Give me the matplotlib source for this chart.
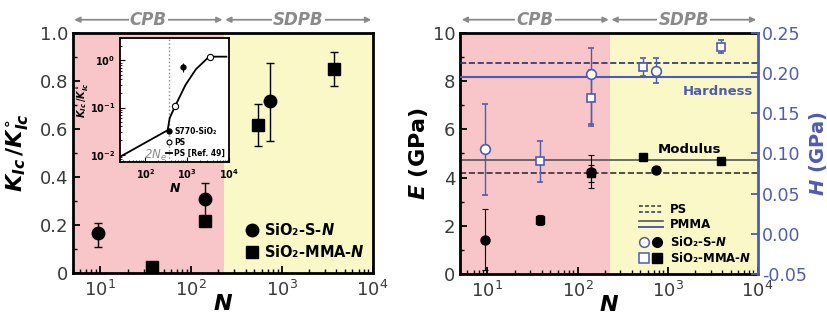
import matplotlib
matplotlib.use("Agg")
import matplotlib.pyplot as plt
from matplotlib.lines import Line2D
from matplotlib.ticker import MultipleLocator, FormatStrFormatter, LogLocator, NullFormatter

plt.rcParams['font.family'] = ['DejaVu Sans']
plt.rcParams['mathtext.fontset'] = 'custom'
plt.rcParams['mathtext.it'] = 'DejaVu Sans:italic:bold'
plt.rcParams['mathtext.rm'] = 'DejaVu Sans:bold'
plt.rcParams['mathtext.bf'] = 'DejaVu Sans:bold'

# ---- data: left panel (fracture toughness) ----
n_s = [9.5, 142, 740]
k_s = [0.165, 0.31, 0.715]
k_s_lo = [0.055, 0.09, 0.165]
k_s_hi = [0.045, 0.065, 0.16]
n_mma = [37, 142, 540, 3800]
k_mma = [0.025, 0.215, 0.615, 0.85]
k_mma_err = [0.0, 0.0, 0.088, 0.072]

# inset: PS reference curve and points
ref_n = [25, 340, 380, 520, 900, 1600, 3300, 8500]
ref_k = [0.009, 0.033, 0.06, 0.11, 0.3, 0.65, 1.2, 1.2]
ps_n = [520, 3400]
ps_k = [0.11, 1.2]
s770_n = [800]
s770_k = [0.72]
s770_err = [0.15]
two_ne = 360

# ---- data: right panel (modulus / hardness) ----
e_s_n = [9.5, 142, 740]
e_s = [1.42, 4.25, 4.3]
e_s_err = [1.27, 0.7, 0.05]
e_mma_n = [38, 142, 540, 3900]
e_mma = [2.25, 4.18, 4.85, 4.67]
e_mma_err = [0.2, 0.35, 0.0, 0.12]
h_s_n = [9.5, 142, 740]
h_s = [0.105, 0.199, 0.203]
h_s_lo = [0.057, 0.062, 0.015]
h_s_hi = [0.056, 0.032, 0.016]
h_mma_n = [38, 142, 540, 3900]
h_mma = [0.090, 0.169, 0.208, 0.233]
h_mma_err = [0.025, 0.035, 0.011, 0.008]
e_ps, e_pmma = 4.2, 4.72
h_ps, h_pmma = 0.213, 0.195

boundary = 230
xlim = (5, 1e4)
pink = '#f8c5c8'
yellow = '#fbf8c8'
blue = '#4f5bb0'
gray = '#8a8a8a'

fig = plt.figure(figsize=(8.28, 3.2), dpi=100)
ax1 = fig.add_axes([0.088, 0.147, 0.362, 0.750])
ax2 = fig.add_axes([0.556, 0.144, 0.359, 0.753])


def style_axes(ax):
    ax.set_xscale('log')
    ax.set_xlim(*xlim)
    ax.axvspan(xlim[0], boundary, color=pink, zorder=0, lw=0)
    ax.axvspan(boundary, xlim[1], color=yellow, zorder=0, lw=0)
    for s in ax.spines.values():
        s.set_linewidth(2)
    ax.tick_params(which='both', direction='in', labelsize=13, labelcolor='#3a3a3a')
    ax.tick_params(which='major', length=5, width=1.3)
    ax.tick_params(which='minor', length=3, width=1)
    ax.tick_params(axis='x', pad=5)
    ax.xaxis.set_major_locator(LogLocator(base=10, numticks=10))
    ax.xaxis.set_minor_locator(LogLocator(base=10, subs=range(2, 10), numticks=20))
    ax.xaxis.set_minor_formatter(NullFormatter())
    ax.set_xlabel('$N$', fontsize=16, labelpad=-4)
    # regime arrows
    tr = ax.get_xaxis_transform()
    for x0, x1, lab in [(xlim[0], boundary, 'CPB'), (boundary, xlim[1], 'SDPB')]:
        ax.annotate('', xy=(x0, 1.055), xytext=(x1, 1.055), xycoords=tr, textcoords=tr,
                    arrowprops=dict(arrowstyle='<|-|>', color=gray, lw=1.3,
                                    mutation_scale=8, shrinkA=1, shrinkB=1),
                    annotation_clip=False)
        xm = (x0 * x1) ** 0.5
        ax.text(xm, 1.055, lab, transform=tr, ha='center', va='center', fontsize=12,
                fontstyle='italic', fontweight='bold', color=gray,
                bbox=dict(fc='white', ec='none', pad=1))


# ---- left panel ----
style_axes(ax1)
ax1.set_ylim(0, 1.0)
ax1.yaxis.set_minor_locator(MultipleLocator(0.1))
ax1.set_yticks([0, 0.2, 0.4, 0.6, 0.8, 1.0], ['0', '0.2', '0.4', '0.6', '0.8', '1.0'])
ax1.set_ylabel(r'$K_{Ic}\,/K^{\circ}_{Ic}$', fontsize=16, labelpad=6)
ax1.errorbar(n_s, k_s, yerr=[k_s_lo, k_s_hi], fmt='o', color='black', ms=9,
             elinewidth=1, capsize=3, capthick=1, zorder=3)
ax1.errorbar(n_mma, k_mma, yerr=k_mma_err, fmt='s', color='black', ms=9,
             elinewidth=1, capsize=3, capthick=1, zorder=3)
ax1.legend([Line2D([], [], marker='o', color='black', ls='none', ms=9),
            Line2D([], [], marker='s', color='black', ls='none', ms=9)],
           ['SiO₂-S-$N$', 'SiO₂-MMA-$N$'],
           loc='lower left', bbox_to_anchor=(0.565, 0.04), borderaxespad=0, borderpad=0.2,
           frameon=False, prop=dict(size=10.5, weight='bold'), handletextpad=0.3,
           handlelength=1.0, labelspacing=0.45)

# inset
axi = fig.add_axes([0.145, 0.494, 0.132, 0.3875])
axi.set_xscale('log')
axi.set_yscale('log')
axi.set_xlim(25, 1e4)
axi.set_ylim(0.007, 3)
axi.set_facecolor('white')
for s in axi.spines.values():
    s.set_linewidth(1.3)
axi.tick_params(which='both', direction='in', labelsize=7)
axi.tick_params(which='minor', length=1.5)
axi.xaxis.set_major_locator(LogLocator(base=10, numticks=10))
axi.xaxis.set_minor_formatter(NullFormatter())
axi.yaxis.set_minor_formatter(NullFormatter())
for t in axi.get_xticklabels() + axi.get_yticklabels():
    t.set_fontweight('bold')
axi.set_xlabel('$N$', fontsize=9, labelpad=1)
axi.set_ylabel(r'$K_{Ic}\,/K^{\circ}_{Ic}$', fontsize=7, labelpad=0)
axi.axvline(two_ne, color=gray, ls=':', lw=1)
axi.text(two_ne * 0.9, 0.0098, r'2$\mathregular{N}_{\mathregular{e}}$', color=gray,
         ha='right', va='center', fontsize=8.5, fontweight='normal', fontstyle='italic')
axi.plot(ref_n, ref_k, color='black', lw=1.3, zorder=2)
axi.errorbar(s770_n, s770_k, yerr=s770_err, fmt='o', color='black', ms=3.5,
             elinewidth=0.8, capsize=0, zorder=3)
axi.plot(ps_n, ps_k, 'o', mfc='white', mec='black', ms=4.5, mew=0.8, ls='none', zorder=4)
axi.legend([Line2D([], [], marker='o', color='black', ls='none', ms=3.5),
            Line2D([], [], marker='o', mfc='white', mec='black', ls='none', ms=3.5, mew=0.8),
            Line2D([], [], color='black', lw=1.3)],
           ['S770-SiO₂', 'PS', 'PS [Ref. 49]'], loc='lower right', frameon=False,
           prop=dict(size=5.5, weight='bold'), handlelength=0.8, handletextpad=0.3,
           labelspacing=0.25, borderaxespad=0.15)

# ---- right panel ----
style_axes(ax2)
ax2.set_ylim(0, 10)
ax2.yaxis.set_major_locator(MultipleLocator(2))
ax2.yaxis.set_minor_locator(MultipleLocator(1))
ax2.set_ylabel('$E$ (GPa)', fontsize=16, fontweight='bold', labelpad=2)
ax2.spines['right'].set_visible(False)

ax3 = ax2.twinx()
ax3.set_ylim(-0.05, 0.25)
ax3.yaxis.set_major_locator(MultipleLocator(0.05))
ax3.yaxis.set_major_formatter(FormatStrFormatter('%.2f'))
ax3.tick_params(direction='in', length=5, width=1.3, colors=blue, labelsize=12.5, pad=3)
for s in ax3.spines.values():
    s.set_visible(False)
ax3.spines['right'].set_visible(True)
ax3.spines['right'].set_color(blue)
ax3.spines['right'].set_linewidth(2)
ax3.set_ylabel('$H$ (GPa)', fontsize=14, fontweight='bold', color=blue, labelpad=0)

ax2.axhline(e_ps, color='#333333', ls='--', lw=1.2, zorder=1)
ax2.axhline(e_pmma, color='#555555', ls='-', lw=1.2, zorder=1)
ax3.axhline(h_ps, color='#2b2f6a', ls='--', lw=1.2, zorder=1)
ax3.axhline(h_pmma, color=blue, ls='-', lw=1.5, zorder=1)

ax2.errorbar(e_s_n, e_s, yerr=e_s_err, fmt='o', color='black', ms=6.5,
             elinewidth=0.8, capsize=2.5, capthick=0.8, zorder=3)
ax2.errorbar(e_mma_n, e_mma, yerr=e_mma_err, fmt='s', color='black', ms=5.5,
             elinewidth=0.8, capsize=2.5, capthick=0.8, zorder=3)
ax3.errorbar(h_s_n, h_s, yerr=[h_s_lo, h_s_hi], fmt='o', mfc='white', mec=blue,
             ecolor=blue, ms=7, mew=1.2, elinewidth=1, capsize=2.5, capthick=1, zorder=3)
ax3.errorbar(h_mma_n, h_mma, yerr=h_mma_err, fmt='s', mfc='white', mec=blue,
             ecolor=blue, ms=5.5, mew=1.2, elinewidth=1, capsize=2.5, capthick=1, zorder=3)

ax2.text(0.865, 0.758, 'Hardness', transform=ax2.transAxes, ha='center', va='center',
         fontsize=9.5, fontweight='bold', color=blue)
ax2.text(0.77, 0.518, 'Modulus', transform=ax2.transAxes, ha='center', va='center',
         fontsize=9.5, fontweight='bold', color='black')

# legend of the right panel, drawn by hand for the double lines
lx0, lx1, tx = 0.600, 0.683, 0.705
rows = [0.269, 0.207, 0.132, 0.066]
kw = dict(transform=ax2.transAxes, clip_on=False)
ax2.plot([lx0, lx1], [rows[0] + 0.011] * 2, color='#333333', lw=1.1, dashes=(2.5, 1.5), **kw)
ax2.plot([lx0, lx1], [rows[0] - 0.011] * 2, color='#2b2f6a', lw=1.1, dashes=(2.5, 1.5), **kw)
ax2.plot([lx0, lx1], [rows[1] + 0.011] * 2, color='#555555', lw=1.2, **kw)
ax2.plot([lx0, lx1], [rows[1] - 0.011] * 2, color=blue, lw=1.4, **kw)
ax2.plot([0.617], [rows[2]], 'o', mfc='white', mec=blue, ms=7, mew=1.1, **kw)
ax2.plot([0.662], [rows[2]], 'o', color='black', ms=7, **kw)
ax2.plot([0.617], [rows[3]], 's', mfc='white', mec=blue, ms=6.5, mew=1.1, **kw)
ax2.plot([0.662], [rows[3]], 's', color='black', ms=6.5, **kw)
for y, lab in zip(rows, ['PS', 'PMMA', 'SiO₂-S-$N$', 'SiO₂-MMA-$N$']):
    ax2.text(tx, y, lab, transform=ax2.transAxes, ha='left', va='center',
             fontsize=8.5, fontweight='bold')

fig.savefig('out.png', dpi=100)
